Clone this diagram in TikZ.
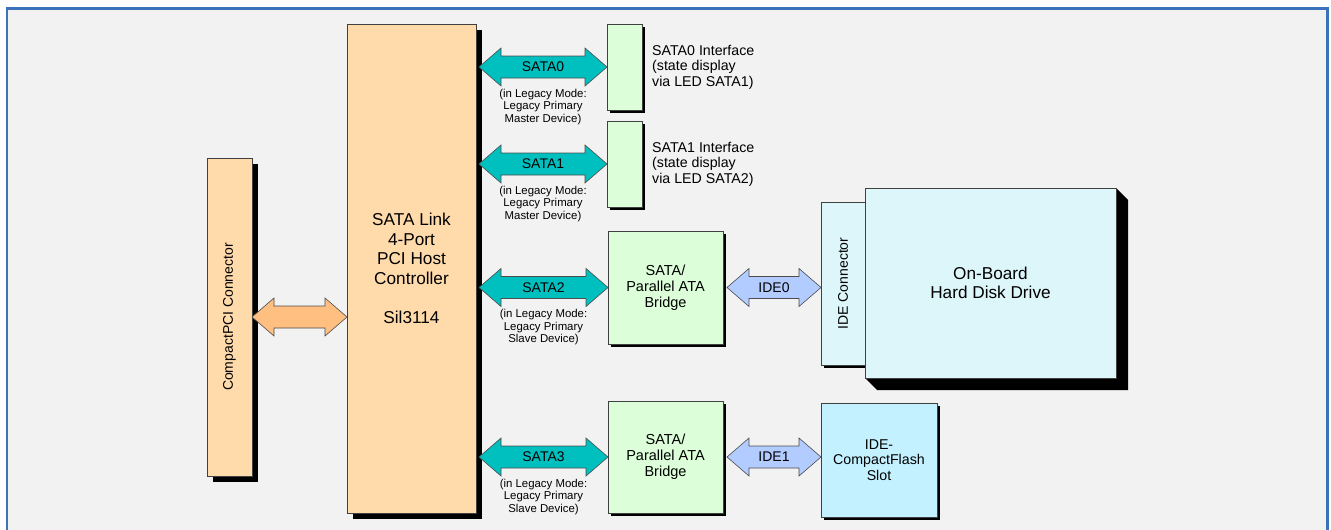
\documentclass[tikz,border=0pt]{standalone}
\usepackage{fontspec}
\setmainfont{Liberation Sans}
\usepackage{xcolor}
\usepackage{graphicx}
\usepackage{tikz}
\usetikzlibrary{positioning}
\usetikzlibrary{calc,shadows,backgrounds}

\definecolor{frameblue}{HTML}{3B72B9}
\definecolor{panelgrey}{HTML}{F2F2F2}
\definecolor{peach}{HTML}{FFDBAB}
\definecolor{peacharrow}{HTML}{FFBF80}
\definecolor{mint}{HTML}{DCFFDA}
\definecolor{sataarrow}{HTML}{00BFBF}
\definecolor{idearrow}{HTML}{B3CCFF}
\definecolor{icecyan}{HTML}{DDF6FA}
\definecolor{skycyan}{HTML}{C3F1FF}

\pgfdeclarelayer{shade}
\pgfsetlayers{background,shade,main}

\tikzset{
  box/.style={draw=black!75, line width=0.8pt, inner sep=0pt, outer sep=0pt,
    anchor=north west, align=center},
  bigshadow/.style={drop shadow={shadow xshift=6pt, shadow yshift=-6pt, fill=black, opacity=1}},
  smallshadow/.style={drop shadow={shadow xshift=3pt, shadow yshift=-3pt, fill=black, opacity=1}},
  bus/.style={draw=black!70, line width=0.6pt},
  buslabel/.style={inner sep=0pt, font=\fontsize{14}{16}\selectfont},
  legacy/.style={inner sep=0pt, align=center, font=\fontsize{11.4}{12.5}\selectfont},
  sidetext/.style={inner sep=0pt, align=left, font=\fontsize{14.2}{15.5}\selectfont}
}

\newcommand{\busarrow}[5]{%
  \draw[bus,#1] let \p1=#2, \p2=#3 in
    (\x1,\y1) -- (\x1+22,\y1+19) -- (\x1+22,\y1+11) -- (\x2-22,\y1+11)
    -- (\x2-22,\y1+19) -- (\x2,\y1) -- (\x2-22,\y1-19) -- (\x2-22,\y1-11)
    -- (\x1+22,\y1-11) -- (\x1+22,\y1-19) -- cycle
    (\x1/2+\x2/2,\y1) node[buslabel] (#4) {#5};}

\begin{document}
\begin{tikzpicture}[x=1pt,y=-1pt]
\useasboundingbox (0,0) rectangle (1331,530);

\node[box, bigshadow, fill=peach, minimum width=45pt, minimum height=318pt,
  font=\fontsize{14}{15.5}\selectfont] (cpci) at (207,158) {\rotatebox{90}{CompactPCI Connector}};
\node[box, bigshadow, fill=peach, minimum width=129pt, minimum height=489pt,
  font=\fontsize{17.2}{19.5}\selectfont] (ctrl) at (347,24)
  {SATA Link\\4-Port\\PCI Host\\Controller\\[19.5pt]Sil3114};

\node[box, smallshadow, fill=mint, minimum width=35pt, minimum height=86pt] (if0) at (607,24) {};
\node[box, smallshadow, fill=mint, minimum width=35pt, minimum height=86pt] (if1) at (607,121) {};
\node[sidetext, right=10pt of if0] (if0txt) {SATA0 Interface\\(state display\\via LED SATA1)};
\node[sidetext, right=10pt of if1] (if1txt) {SATA1 Interface\\(state display\\via LED SATA2)};

\node[box, smallshadow, fill=mint, minimum width=115pt, minimum height=113pt,
  font=\fontsize{14.5}{16}\selectfont] (br0) at (608,231) {SATA/\\Parallel ATA\\Bridge};
\node[box, smallshadow, fill=mint, minimum width=115pt, minimum height=112pt,
  font=\fontsize{14.5}{16}\selectfont] (br1) at (608,401) {SATA/\\Parallel ATA\\Bridge};

\node[box, smallshadow, fill=icecyan, minimum width=44pt, minimum height=163pt,
  font=\fontsize{14}{15.5}\selectfont] (idec) at (821,202) {\rotatebox{90}{IDE Connector}};
\node[box, fill=icecyan, minimum width=251pt, minimum height=190pt,
  font=\fontsize{17.2}{19}\selectfont] (hdd) at (865,188) {On-Board\\Hard Disk Drive};
\node[box, smallshadow, fill=skycyan, minimum width=116pt, minimum height=114pt,
  font=\fontsize{14.2}{15.5}\selectfont] (cf) at (821,403) {IDE-\\CompactFlash\\Slot};

\busarrow{fill=peacharrow}{(cpci.east)}{(ctrl.west |- cpci.east)}{pci}{}
\busarrow{fill=sataarrow}{($(ctrl.east |- if0.west)+(3,0)$)}{(if0.west)}{sata0}{SATA0}
\busarrow{fill=sataarrow}{($(ctrl.east |- if1.west)+(3,0)$)}{(if1.west)}{sata1}{SATA1}
\busarrow{fill=sataarrow}{($(ctrl.east |- br0.west)+(3,0)$)}{(br0.west)}{sata2}{SATA2}
\busarrow{fill=sataarrow}{($(ctrl.east |- br1.west)+(3,0)$)}{(br1.west)}{sata3}{SATA3}
\busarrow{fill=idearrow}{($(br0.east)+(4,0)$)}{(idec.west |- br0.east)}{ide0}{IDE0}
\busarrow{fill=idearrow}{($(br1.east)+(4,0)$)}{(cf.west |- br1.east)}{ide1}{IDE1}

\node[legacy] (leg0) at ($(sata0)+(0,40)$) {(in Legacy Mode:\\Legacy Primary\\Master Device)};
\node[legacy] (leg1) at ($(sata1)+(0,40)$) {(in Legacy Mode:\\Legacy Primary\\Master Device)};
\node[legacy] (leg2) at ($(sata2)+(0,40)$) {(in Legacy Mode:\\Legacy Primary\\Slave Device)};
\node[legacy] (leg3) at ($(sata3)+(0,40)$) {(in Legacy Mode:\\Legacy Primary\\Slave Device)};

\begin{pgfonlayer}{shade}
\fill[black] (hdd.north east) -- ++(12,12) -- ($(hdd.south east)+(12,12)$)
  -- ($(hdd.south west)+(12,12)$) -- (hdd.south west) -- cycle;
\end{pgfonlayer}

\begin{pgfonlayer}{background}
\fill[white] (0,0) rectangle (1331,530);
\draw[frameblue, line width=2.5pt, fill=panelgrey] (7,8.7) rectangle (1327.5,545);
\end{pgfonlayer}
\end{tikzpicture}
\end{document}
